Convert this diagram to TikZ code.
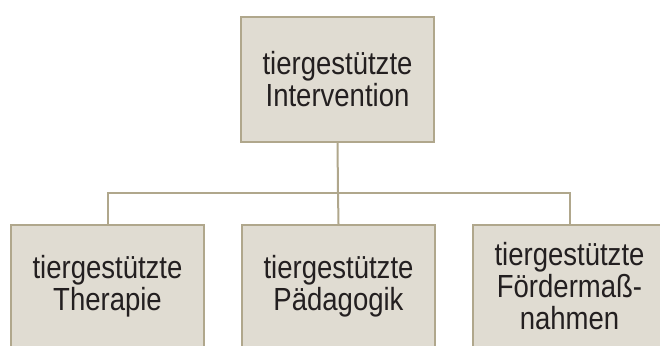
\documentclass[tikz,border=0pt]{standalone}
\usepackage{fontspec}
\setmainfont{Liberation Sans}[FakeStretch=0.86]
\definecolor{boxfill}{HTML}{E0DCD2}
\definecolor{boxline}{HTML}{B0A78C}
\definecolor{txt}{HTML}{231F20}
\tikzset{
  box/.style={draw=boxline, fill=boxfill, line width=2pt, inner sep=0pt,
    minimum width=193pt, align=center, text=txt,
    font=\fontsize{32}{32}\selectfont},
  conn/.style={draw=boxline, line width=2pt}
}
\begin{document}
\begin{tikzpicture}[x=1pt,y=1pt]
\useasboundingbox (0,0) rectangle (660,-345);
\node[box, minimum height=125pt] (top) at (337.5,-79.5) {tiergestützte\\Intervention};
\node[box, minimum height=122pt] (left) at (107.5,-286) {tiergestützte\\Therapie};
\node[box, minimum height=122pt] (mid) at (338.5,-286) {tiergestützte\\Pädagogik};
\node[box, minimum height=122pt] (right) at (569.5,-286) {tiergestützte\\Fördermaß-\\nahmen};
\coordinate (bus) at (338,-193);
\draw[conn] (top.south) -- (bus);
\draw[conn] (left.north) |- (bus) -| (right.north);
\draw[conn] (mid.north) -- (bus);
\end{tikzpicture}
\end{document}
